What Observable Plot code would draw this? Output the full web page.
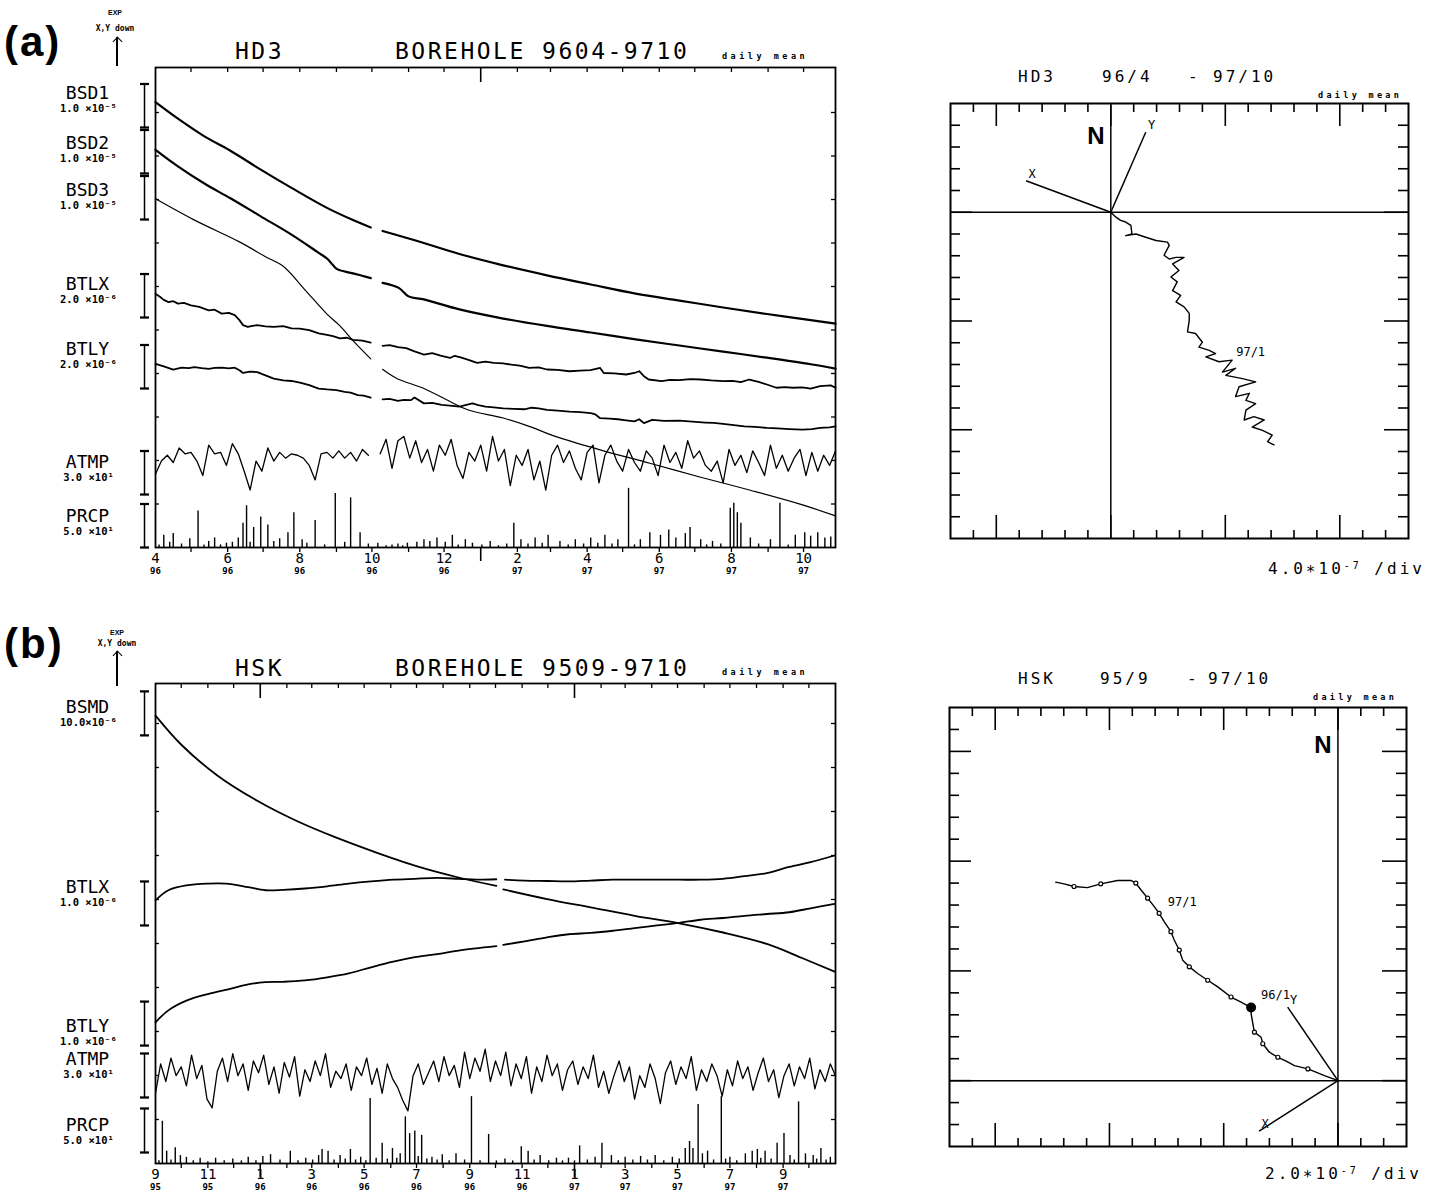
<!DOCTYPE html>
<html><head><meta charset="utf-8">
<script src="https://cdn.jsdelivr.net/npm/d3@7"></script>
<script src="https://cdn.jsdelivr.net/npm/@observablehq/plot@0.6"></script>
<style>
body{margin:0;background:#fff;}
#page{position:relative;width:1451px;height:1194px;overflow:hidden;background:#fff;color:#000;}
#page svg{position:absolute;display:block;overflow:visible;}
.t{position:absolute;white-space:nowrap;line-height:1;color:#000;}
.t sup{font-size:0.62em;vertical-align:0.55em;line-height:0;}
</style></head><body><div id="page"></div>
<script>
// ===================== DATA =====================
// (a) HD3 borehole, daily means; day offsets from 1996-04-01, null = gap
const hd3Start = "1996-04-01";
const hd3Days = 575;
// strain, x10^-6 (relative)
const hd3BSD1 = [[0,0],[19,-3.8],[41,-7.8],[63,-11.1],[89,-15.5],[115,-19.7],[145,-24.3],[167,-27.1],[182,-28.8],[187,null],[192,-29.6],[220,-31.8],[257,-34.9],[294,-37.5],[331,-39.8],[368,-41.9],[406,-44.0],[443,-45.6],[480,-47.2],[517,-48.7],[554,-50.1],[575,-50.9]];
const hd3BSD2 = [[0,0],[19,-3.8],[41,-7.7],[63,-11.1],[89,-15.3],[115,-19.5],[138,-23.7],[145,-25.0],[150,-26.5],[154,-27.5],[167,-28.4],[182,-29.5],[187,null],[192,-30.6],[206,-31.8],[214,-33.7],[227,-34.4],[257,-36.7],[294,-38.8],[331,-40.5],[368,-42.0],[406,-43.6],[443,-45.0],[480,-46.4],[517,-47.8],[554,-49.3],[575,-50.3]];
const hd3BSD3 = [[0,0],[33,-4.9],[71,-9.9],[93,-13.3],[108,-15.5],[126,-20.8],[145,-26.5],[156,-29.2],[167,-32.6],[182,-36.8],[187,null],[192,-39.2],[204,-41.3],[227,-43.6],[249,-46.6],[264,-48.5],[294,-50.4],[316,-52.3],[338,-54.6],[376,-57.7],[418,-60.8],[461,-64.0],[503,-67.0],[545,-70.2],[575,-72.9]];
// tilt, x10^-6 rad (relative)
const hd3BTLX = [[0,0],[4,-0.15],[7,-0.28],[11,-0.38],[15,-0.34],[19,-0.45],[24,-0.42],[30,-0.53],[37,-0.6],[45,-0.76],[50,-0.73],[56,-0.91],[62,-0.88],[67,-0.98],[71,-1.21],[74,-1.44],[78,-1.52],[82,-1.47],[86,-1.44],[93,-1.5],[100,-1.52],[108,-1.49],[115,-1.59],[122,-1.6],[130,-1.67],[138,-1.82],[145,-1.89],[150,-1.95],[156,-2.05],[162,-2.02],[167,-2.12],[175,-2.15],[182,-2.24],[187,null],[192,-2.39],[198,-2.36],[205,-2.45],[212,-2.5],[219,-2.65],[227,-2.80],[234,-2.73],[241,-2.84],[249,-2.95],[253,-2.85],[258,-2.92],[264,-3.03],[272,-3.18],[279,-3.12],[286,-3.18],[294,-3.2],[301,-3.26],[308,-3.3],[316,-3.41],[324,-3.38],[331,-3.48],[340,-3.5],[350,-3.56],[359,-3.53],[368,-3.51],[376,-3.41],[379,-3.64],[388,-3.66],[398,-3.71],[405,-3.64],[409,-3.56],[413,-3.79],[417,-3.94],[428,-4.01],[435,-3.96],[443,-3.97],[452,-3.92],[461,-3.94],[470,-3.98],[480,-4.01],[488,-4.0],[495,-4.06],[502,-3.94],[510,-4.05],[517,-4.17],[525,-4.32],[532,-4.29],[539,-4.32],[547,-4.3],[554,-4.36],[562,-4.24],[571,-4.21],[575,-4.32]];
const hd3BTLY = [[0,0],[7,-0.12],[15,-0.27],[22,-0.18],[28,-0.2],[33,-0.15],[39,-0.2],[45,-0.23],[50,-0.19],[56,-0.18],[62,-0.21],[67,-0.18],[71,-0.30],[74,-0.42],[80,-0.36],[86,-0.38],[93,-0.53],[100,-0.68],[108,-0.76],[115,-0.79],[123,-0.88],[130,-0.98],[138,-1.14],[145,-1.18],[153,-1.21],[160,-1.29],[165,-1.33],[171,-1.44],[176,-1.46],[182,-1.55],[187,null],[192,-1.64],[198,-1.61],[205,-1.70],[210,-1.66],[216,-1.67],[219,-1.55],[227,-1.82],[234,-1.8],[242,-1.89],[249,-1.92],[257,-1.97],[262,-1.9],[268,-1.82],[273,-1.9],[279,-1.97],[286,-2.0],[294,-2.05],[303,-2.07],[312,-2.09],[318,-2.02],[324,-2.05],[331,-2.12],[340,-2.15],[350,-2.20],[359,-2.22],[368,-2.27],[372,-2.33],[376,-2.50],[384,-2.52],[391,-2.55],[398,-2.6],[405,-2.65],[409,-2.55],[413,-2.73],[420,-2.58],[430,-2.62],[443,-2.61],[454,-2.66],[465,-2.70],[472,-2.72],[480,-2.76],[489,-2.82],[498,-2.88],[507,-2.9],[517,-2.95],[526,-2.97],[536,-3.00],[547,-3.03],[555,-3.0],[562,-2.95],[570,-2.92],[575,-2.88]];
// air pressure, hPa, every 5 days from day 0
const hd3ATMPStep = 5;
const hd3ATMP = [1002,1011,1015,1010,1020,1016,1017,1011,1001,1022,1016,1017,1008,1023,1016,1004,991,1011,1004,1020,1011,1017,1013,1016,1015,1013,1008,998,1016,1017,1013,1018,1013,1017,1011,1019,1015,null,1016,1026,1006,1025,1028,1013,1025,1010,1019,1004,1022,1015,1026,1008,999,1017,1011,1022,1004,1028,1011,1019,994,1015,1008,1019,998,1011,991,1015,1022,1010,1018,1006,998,1017,1022,996,1015,1022,1011,1004,1019,1010,1004,1018,1013,1001,1022,1010,1017,1006,1025,1013,1018,1008,1004,1011,996,1019,1008,1015,1003,1018,1010,1001,1022,1006,1015,1004,1013,1019,1001,1017,1004,1015,1008,1018];
// precipitation, mm/day [day, mm]
const hd3PRCP = [[3,3],[7,14],[12,6],[15,16],[22,4],[29,10],[36,42],[41,3],[45,7],[50,11],[55,3],[60,5],[65,6],[70,11],[74,28],[77,48],[80,6],[83,23],[89,35],[95,26],[100,7],[105,10],[112,17],[117,40],[124,9],[128,5],[135,31],[143,3],[152,62],[160,6],[165,57],[173,17],[180,4],[188,5],[195,2],[200,3],[205,4],[209,2],[213,5],[221,6],[227,9],[232,7],[238,11],[245,6],[251,14],[256,3],[262,9],[268,5],[276,3],[283,7],[290,2],[297,4],[303,28],[309,9],[315,4],[321,11],[327,5],[332,14],[342,7],[349,3],[355,9],[362,4],[368,11],[374,5],[380,14],[386,4],[391,9],[400,68],[405,3],[410,9],[418,17],[427,14],[434,20],[440,11],[448,16],[452,23],[461,9],[466,3],[471,7],[478,4],[486,45],[489,51],[492,40],[495,28],[503,11],[510,4],[520,9],[528,51],[535,3],[541,14],[549,17],[554,13],[560,17],[566,11],[571,12]];

// (b) HSK borehole, day offsets from 1995-09-01
const hskStart = "1995-09-01";
const hskDays = 792;
const hskBSMD = [[0,0],[31,-6.8],[72,-13.6],[118,-19.3],[164,-23.9],[210,-27.7],[251,-30.7],[302,-34.1],[353,-36.8],[397,-38.7],[401,null],[405,-39.5],[456,-41.7],[507,-43.6],[558,-45.5],[610,-47.2],[661,-49.3],[712,-51.9],[753,-55.1],[791,-58.2]];
const hskBTLX = [[0,0],[15,0.23],[36,0.34],[61,0.38],[82,0.38],[108,0.30],[128,0.23],[149,0.24],[174,0.27],[200,0.32],[225,0.38],[251,0.43],[277,0.47],[302,0.49],[328,0.51],[353,0.49],[374,0.47],[397,0.48],[401,null],[407,0.47],[430,0.45],[456,0.44],[481,0.43],[507,0.45],[533,0.47],[558,0.47],[584,0.47],[610,0.47],[635,0.47],[661,0.49],[686,0.55],[712,0.62],[738,0.76],[763,0.87],[791,1.02]];
const hskBTLY = [[0,0],[15,0.27],[36,0.49],[61,0.64],[87,0.76],[108,0.86],[128,0.91],[149,0.92],[174,0.95],[200,1.02],[225,1.11],[251,1.25],[277,1.38],[302,1.48],[328,1.55],[353,1.63],[397,1.73],[401,null],[405,1.76],[430,1.84],[456,1.93],[481,2.00],[507,2.03],[533,2.08],[558,2.14],[584,2.20],[610,2.26],[635,2.33],[661,2.37],[686,2.42],[712,2.46],[738,2.50],[763,2.59],[791,2.69]];
const hskATMPStep = 6;
const hskATMP = [1000,1020,1008,1024,1012,1018,1005,1026,1010,1019,996,990,1015,1024,1008,1027,1012,1020,1002,1022,1014,1026,1006,1018,1000,1021,1011,1025,998,1016,1008,1022,1012,1027,1004,1015,1010,1020,1002,1018,1012,1024,1006,1017,1000,1020,1010,1004,995,988,1012,1020,1006,1014,1022,1008,1025,1012,1019,1004,1028,1010,1024,1015,1030,1008,1022,1012,1028,1005,1020,1010,1025,1000,1018,1008,1026,1012,1020,1002,1016,1022,1006,1018,1010,1026,1004,1015,1000,1012,1022,1008,1018,996,1012,1004,1020,1010,993,1014,1022,1006,1018,1010,1025,1002,1016,1008,1020,1012,998,1016,1005,1022,1010,1018,1002,1014,1024,1008,1016,997,1012,1020,1005,1018,1010,1024,1003,1016,1008,1020,1012];
const hskPRCP = [[4,3],[8,48],[13,14],[18,4],[23,18],[29,9],[36,7],[44,3],[52,6],[61,2],[70,6],[80,3],[90,5],[100,3],[108,7],[117,3],[125,8],[134,10],[145,4],[157,14],[166,3],[175,6],[183,4],[190,9],[194,16],[201,14],[208,4],[215,9],[221,5],[227,16],[233,4],[239,7],[245,3],[250,74],[257,6],[264,23],[270,5],[276,17],[281,6],[285,11],[291,53],[296,34],[302,37],[306,8],[310,32],[316,5],[322,7],[328,4],[334,10],[342,3],[350,11],[360,4],[368,76],[378,3],[388,33],[397,3],[407,5],[416,3],[426,19],[434,14],[441,4],[448,9],[458,3],[467,6],[474,3],[481,6],[488,3],[494,20],[503,4],[512,7],[520,23],[531,9],[539,3],[547,7],[556,4],[565,8],[573,4],[582,9],[592,3],[602,7],[610,5],[617,17],[622,25],[626,17],[632,67],[637,11],[643,14],[650,4],[659,76],[664,5],[669,7],[677,3],[687,11],[695,14],[701,16],[705,6],[710,14],[717,5],[724,23],[732,34],[739,9],[744,4],[749,70],[757,11],[766,9],[770,5],[775,17],[781,4],[786,7]];

// Hodographs: tilt vector (East, North), x10^-7 rad
const hd3Path = [[0,0],[0.9,-0.9],[1.7,-1.5],[2.6,-1.8],[3.5,-2.4],[3.7,-4.0],[2.6,-4.3],[4.4,-4.0],[6.1,-4.6],[7.9,-5.2],[9.9,-5.5],[10.2,-6.1],[9.3,-7.9],[10.2,-8.6],[11.4,-8.3],[12.8,-8.3],[10.8,-9.5],[11.9,-10.7],[10.5,-11.9],[11.6,-12.8],[10.8,-14.4],[12.2,-15.3],[11.4,-16.5],[12.8,-17.4],[13.7,-18.6],[13.7,-19.9],[13.4,-22.0],[14.8,-22.3],[16.0,-23.9],[15.4,-24.8],[17.2,-25.4],[18.3,-26.0],[16.6,-26.6],[18.9,-27.5],[21.2,-27.2],[19.5,-29.4],[21.8,-28.7],[20.1,-30.0],[23.0,-30.6],[25.3,-31.2],[22.4,-32.1],[21.8,-33.9],[24.2,-33.3],[23.6,-34.6],[25.3,-35.2],[23.6,-36.4],[23.3,-38.2],[25.0,-37.6],[26.8,-38.2],[24.7,-39.5],[26.5,-40.1],[28.2,-41.0],[27.4,-42.2],[28.5,-42.8]];
const hd3Axes = [{label:"X", e:-14.8, n:5.8},{label:"Y", e:6.1, n:14.7}];
const hd3Notes = [{label:"97/1", e:21.9, n:-25.7}];

const hskPath = [[0,0],[-1.18,0.46],[-2.63,1.07],[-3.81,1.37],[-4.53,1.77],[-5.26,2.13],[-6.0,2.59],[-6.58,3.36],[-6.73,3.96],[-7.31,4.42],[-7.45,5.19],[-7.6,6.10],[-7.6,6.66],[-8.48,7.16],[-9.36,7.62],[-10.52,8.54],[-11.4,9.15],[-12.28,9.76],[-13.01,10.37],[-13.59,10.98],[-13.89,11.90],[-14.33,12.81],[-14.62,13.57],[-15.21,14.49],[-15.65,15.25],[-16.08,15.86],[-16.66,16.63],[-17.25,17.39],[-17.69,18.0],[-18.13,18.24],[-19.29,18.24],[-20.76,17.93],[-21.93,17.59],[-23.1,17.69],[-23.98,17.93],[-24.7,18.09]];
const hskMonthDots = [[-2.63,1.07],[-5.26,2.13],[-6.58,3.36],[-7.31,4.42],[-9.36,7.62],[-11.4,9.15],[-13.01,10.37],[-13.89,11.90],[-14.62,13.57],[-15.65,15.25],[-16.66,16.63],[-17.69,18.0],[-20.76,17.93],[-23.1,17.69]];
const hskJanDot = [[-7.6,6.66]];
const hskAxes = [{label:"X", e:-6.9, n:-4.6},{label:"Y", e:-4.4, n:6.7}];
const hskNotes = [{label:"97/1", e:-14.9, n:16.3},{label:"96/1", e:-6.73, n:7.8}];

// ===================== RENDER =====================
const MONO = "DejaVu Sans Mono, monospace";
const SANS = "Liberation Sans, Arial, sans-serif";
const DAY = 864e5;
const toDate = (start, d) => new Date(Date.parse(start + "T00:00:00Z") + d * DAY);
const page = document.getElementById("page");

function seriesPanel(P) {
  const plotW = 680, plotH = 480;
  const start = toDate(P.start, 0), end = toDate(P.start, P.days);
  const months = d3.utcMonth.range(start, end);
  const labelMonths = months.filter((d, i) => i % 2 === 0);
  const years = months.filter(d => d.getUTCMonth() === 0);
  const minor = months.filter(d => d.getUTCMonth() !== 0 && +d > +start);
  const yMax = plotH / P.unitPx;
  const x0 = () => start;
  const yt = d3.range(1, Math.floor(yMax - 0.05) + 1);
  const marks = [
    Plot.frame({strokeWidth: 1.8}),
    Plot.tickX(minor, {x: d => d, insetBottom: plotH - 5, strokeWidth: 1.3}),
    Plot.tickX(years, {x: d => d, insetBottom: plotH - 15, strokeWidth: 1.6}),
    Plot.tickX(minor, {x: d => d, insetTop: plotH, insetBottom: -5, strokeWidth: 1.3}),
    Plot.tickX(years, {x: d => d, insetTop: plotH, insetBottom: -14, strokeWidth: 1.6}),
    Plot.tickY(yt, {y: d => d, insetRight: plotW - 4, strokeWidth: 1.3}),
    Plot.tickY(yt, {y: d => d, insetLeft: plotW - 4, strokeWidth: 1.3})
  ];
  for (const t of P.traces) {
    const pts = t.data.map(([d, v]) => ({x: toDate(P.start, d), y: v == null ? NaN : t.offset + (v - (t.base || 0)) / t.per}));
    marks.push(Plot.line(pts, {x: "x", y: "y", stroke: "#000", strokeWidth: t.width, curve: t.smooth ? "catmull-rom" : "linear"}));
  }
  marks.push(Plot.ruleX(P.prcp, {x: d => toDate(P.start, d[0]), y1: 0, y2: d => d[1] / P.prcpInfo.per, stroke: "#000", strokeWidth: 1.4}));
  const bars = [...P.traces, P.prcpInfo];
  marks.push(Plot.link(bars, {x1: x0, x2: x0, y1: t => t.barBottom, y2: t => t.barBottom + 1, dx: -11, stroke: "#000", strokeWidth: 1.5, markerStart: "tick", markerEnd: "tick"}));
  marks.push(Plot.text(bars, {x: x0, y: t => t.labelAt, text: "name", dx: -68, dy: -3, fontSize: 18, fontFamily: MONO}));
  marks.push(Plot.text(bars, {x: x0, y: t => t.labelAt, text: "unit", dx: -67, dy: 12, fontSize: 10.5, fontWeight: "bold", fontFamily: MONO, ariaLabel: "unitlabel"}));
  marks.push(Plot.text(labelMonths, {x: d => d, text: d => String(d.getUTCMonth() + 1), frameAnchor: "bottom", dy: 15, fontSize: 14, fontFamily: MONO}));
  marks.push(Plot.text(labelMonths, {x: d => d, text: d => String(d.getUTCFullYear()).slice(2), frameAnchor: "bottom", dy: 26, fontSize: 9, fontWeight: "bold", fontFamily: MONO}));
  const svg = Plot.plot({
    width: 850, height: P.height,
    marginLeft: 155, marginRight: 15, marginTop: P.mt, marginBottom: P.height - P.mt - plotH,
    x: {type: "utc", domain: [start, end], axis: null},
    y: {domain: [0, yMax], axis: null},
    style: {background: "transparent", color: "#000", fontFamily: MONO},
    marks
  });
  d3.select(svg).selectAll('g[aria-label="unitlabel"] text').attr("letter-spacing", 1.4);
  return svg;
}

function hodograph(H) {
  const m = 6, W = H.w, Ht = H.h;
  const isMajor = v => Math.abs(v / H.major - Math.round(v / H.major)) < 1e-6;
  const xs = d3.range(H.x[0] + H.step, H.x[1] - 1e-6, H.step);
  const ys = d3.range(H.y[0] + H.step, H.y[1] - 1e-6, H.step);
  const xMin = xs.filter(v => !isMajor(v)), xMaj = xs.filter(isMajor);
  const yMin = ys.filter(v => !isMajor(v)), yMaj = ys.filter(isMajor);
  const marks = [
    Plot.frame({strokeWidth: 2}),
    Plot.ruleX([0], {strokeWidth: 1.5}),
    Plot.ruleY([0], {strokeWidth: 1.5}),
    Plot.tickX(xMin, {x: d => d, insetBottom: Ht - 9, strokeWidth: 1.6}),
    Plot.tickX(xMaj, {x: d => d, insetBottom: Ht - 23, strokeWidth: 1.6}),
    Plot.tickX(xMin, {x: d => d, insetTop: Ht - 8, strokeWidth: 1.6}),
    Plot.tickX(xMaj, {x: d => d, insetTop: Ht - 23, strokeWidth: 1.6}),
    Plot.tickY(yMin, {y: d => d, insetRight: W - 10, strokeWidth: 1.6}),
    Plot.tickY(yMaj, {y: d => d, insetRight: W - 22, strokeWidth: 1.6}),
    Plot.tickY(yMin, {y: d => d, insetLeft: W - 10, strokeWidth: 1.6}),
    Plot.tickY(yMaj, {y: d => d, insetLeft: W - 24, strokeWidth: 1.6}),
    Plot.link(H.axes, {x1: 0, y1: 0, x2: "e", y2: "n", strokeWidth: 1.5}),
    Plot.text(H.axes, {x: "e", y: "n", text: "label", dx: 6, dy: -7, fontSize: 12, fontFamily: MONO}),
    Plot.line(H.path, {x: d => d[0], y: d => d[1], strokeWidth: 1.4})
  ];
  if (H.dots) marks.push(Plot.dot(H.dots, {x: d => d[0], y: d => d[1], r: 2, stroke: "#000", strokeWidth: 1.2, fill: "#fff"}));
  if (H.big) marks.push(Plot.dot(H.big, {x: d => d[0], y: d => d[1], r: 5, fill: "#000"}));
  marks.push(Plot.text(H.notes, {x: "e", y: "n", text: "label", textAnchor: "start", fontSize: 12, fontFamily: MONO}));
  marks.push(Plot.text(["N"], {x: () => 0, frameAnchor: "top", dx: -15, dy: H.nDy, fontSize: 24, fontWeight: "bold", fontFamily: SANS}));
  return Plot.plot({
    width: W + 2 * m, height: Ht + 2 * m, margin: m,
    x: {domain: H.x, axis: null}, y: {domain: H.y, axis: null},
    style: {background: "transparent", color: "#000", fontFamily: MONO},
    marks
  });
}

function put(node, left, top) { node.style.left = left + "px"; node.style.top = top + "px"; page.appendChild(node); }
function txt(html, left, baseline, o) {
  const el = document.createElement("div");
  el.className = "t";
  el.innerHTML = html;
  el.style.fontSize = o.size + "px";
  el.style.fontFamily = o.family || MONO;
  el.style.fontWeight = o.weight || 400;
  if (o.ls) el.style.letterSpacing = o.ls + "px";
  el.style.top = (baseline - 0.846 * o.size) + "px";
  el.style.left = left + "px";
  if (o.center) el.style.transform = "translateX(-50%)";
  page.appendChild(el);
}
function upArrow(x, yTop, yBot) {
  const s = document.createElement("div");
  Object.assign(s.style, {position: "absolute", left: (x - 0.75) + "px", top: (yTop + 1) + "px", width: "1.5px", height: (yBot - yTop - 1) + "px", background: "#000"});
  page.appendChild(s);
  const h = document.createElement("div");
  Object.assign(h.style, {position: "absolute", left: (x - 3.5) + "px", top: (yTop + 1.5) + "px", width: "7px", height: "7px", boxSizing: "border-box", borderTop: "1.5px solid #000", borderLeft: "1.5px solid #000", transform: "rotate(45deg)"});
  page.appendChild(h);
}

const panelA = seriesPanel({
  start: hd3Start, days: hd3Days, unitPx: 43.5, height: 600, mt: 67,
  traces: [
    {name: "BSD1", unit: "1.0 ×10⁻⁵", data: hd3BSD1, per: 10, offset: 10.237, width: 2.2, smooth: true, barBottom: 9.655, labelAt: 10.37},
    {name: "BSD2", unit: "1.0 ×10⁻⁵", data: hd3BSD2, per: 10, offset: 9.143, width: 2.2, smooth: true, barBottom: 8.598, labelAt: 9.22},
    {name: "BSD3", unit: "1.0 ×10⁻⁵", data: hd3BSD3, per: 10, offset: 8.016, width: 1.2, smooth: true, barBottom: 7.54, labelAt: 8.14},
    {name: "BTLX", unit: "2.0 ×10⁻⁶", data: hd3BTLX, per: 2, offset: 5.832, width: 1.8, barBottom: 5.287, labelAt: 5.98},
    {name: "BTLY", unit: "2.0 ×10⁻⁶", data: hd3BTLY, per: 2, offset: 4.223, width: 1.8, barBottom: 3.655, labelAt: 4.48},
    {name: "ATMP", unit: "3.0 ×10¹", data: hd3ATMP.map((v, i) => [i * hd3ATMPStep, v]), per: 30, base: 1010, offset: 1.954, width: 1.3, barBottom: 1.218, labelAt: 1.885}
  ],
  prcp: hd3PRCP,
  prcpInfo: {name: "PRCP", unit: "5.0 ×10¹", per: 50, barBottom: 0, labelAt: 0.644}
});
put(panelA, 0, 0);

const panelB = seriesPanel({
  start: hskStart, days: hskDays, unitPx: 44, height: 594, mt: 83,
  traces: [
    {name: "BSMD", unit: "10.0×10⁻⁶", data: hskBSMD, per: 10, offset: 10.18, width: 1.8, smooth: true, barBottom: 9.73, labelAt: 10.30},
    {name: "BTLX", unit: "1.0 ×10⁻⁶", data: hskBTLX, per: 1, offset: 5.98, width: 1.8, smooth: true, barBottom: 5.41, labelAt: 6.20},
    {name: "BTLY", unit: "1.0 ×10⁻⁶", data: hskBTLY, per: 1, offset: 3.21, width: 1.8, smooth: true, barBottom: 2.68, labelAt: 3.045},
    {name: "ATMP", unit: "3.0 ×10¹", data: hskATMP.map((v, i) => [i * hskATMPStep, v]), per: 30, base: 1010, offset: 1.93, width: 1.3, barBottom: 1.5, labelAt: 2.295}
  ],
  prcp: hskPRCP,
  prcpInfo: {name: "PRCP", unit: "5.0 ×10¹", per: 50, barBottom: 0.25, labelAt: 0.795}
});
put(panelB, 0, 600);

const hodoA = hodograph({x: [-28, 52], y: [-60, 20], w: 458, h: 435, step: 4, major: 20, path: hd3Path, axes: hd3Axes, notes: hd3Notes, nDy: 23});
put(hodoA, 944, 97);
const hodoB = hodograph({x: [-34, 6], y: [-6, 34], w: 457, h: 439, step: 2, major: 10, path: hskPath, axes: hskAxes, notes: hskNotes, dots: hskMonthDots, big: hskJanDot, nDy: 28});
put(hodoB, 943, 701);

// ----- titles and annotations -----
txt("(a)", 4, 57, {size: 42, family: SANS, weight: 700, ls: 2});
txt("(b)", 4, 659, {size: 42, family: SANS, weight: 700, ls: 2});
txt("EXP", 115, 15, {size: 7, family: SANS, weight: 700, center: true});
txt("X,Y down", 115, 32, {size: 8, weight: 700, center: true});
upArrow(117, 36, 66);
txt("EXP", 117, 635, {size: 7, family: SANS, weight: 700, center: true});
txt("X,Y down", 117, 647, {size: 8, weight: 700, center: true});
upArrow(117, 650, 686);

txt("HD3", 235, 59, {size: 23, ls: 2.5});
txt("BOREHOLE 9604-9710", 395, 59, {size: 23, ls: 2.5});
txt("daily mean", 722, 59, {size: 8.5, weight: 700, ls: 3.5});
txt("HSK", 235, 676, {size: 23, ls: 2.5});
txt("BOREHOLE 9509-9710", 395, 676, {size: 23, ls: 2.5});
txt("daily mean", 722, 675, {size: 8.5, weight: 700, ls: 3.5});

txt("HD3", 1018, 83, {size: 16, ls: 3});
txt("96/4", 1102, 83, {size: 16, ls: 3});
txt("-", 1188, 83, {size: 16, ls: 3});
txt("97/10", 1213, 83, {size: 16, ls: 3});
txt("daily mean", 1318, 98, {size: 8.5, weight: 700, ls: 3.3});
txt("4.0∗10<sup>-7</sup> /div", 1268, 575, {size: 16, ls: 3});

txt("HSK", 1018, 685, {size: 16, ls: 3});
txt("95/9", 1100, 685, {size: 16, ls: 3});
txt("-", 1187, 685, {size: 16, ls: 3});
txt("97/10", 1208, 685, {size: 16, ls: 3});
txt("daily mean", 1313, 700, {size: 8.5, weight: 700, ls: 3.3});
txt("2.0∗10<sup>-7</sup> /div", 1265, 1180, {size: 16, ls: 3});
</script></body></html>
